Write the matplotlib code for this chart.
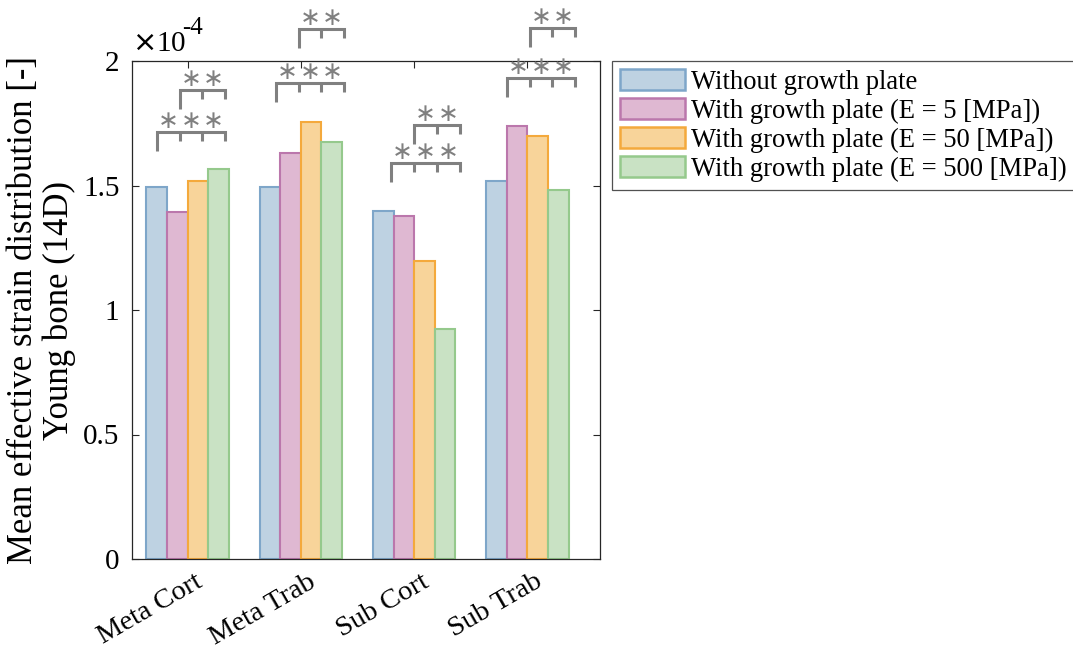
import matplotlib
matplotlib.use("Agg")
import matplotlib.pyplot as plt
from matplotlib.patches import Patch
from matplotlib.transforms import ScaledTranslation
import numpy as np

plt.rcParams["font.family"] = ["Liberation Serif", "DejaVu Serif"]

# Mean effective strain per region (units of 1e-4)
categories = ["Meta Cort", "Meta Trab", "Sub Cort", "Sub Trab"]
series_names = [
    "Without growth plate",
    "With growth plate (E = 5 [MPa])",
    "With growth plate (E = 50 [MPa])",
    "With growth plate (E = 500 [MPa])",
]
without_gp = [1.493, 1.495, 1.398, 1.517]
gp_e5 = [1.394, 1.630, 1.376, 1.740]
gp_e50 = [1.518, 1.754, 1.198, 1.699]
gp_e500 = [1.567, 1.676, 0.925, 1.483]
yticks = [0, 0.5, 1, 1.5, 2]
ytick_labels = ["0", "0.5", "1", "1.5", "2"]

# Significance annotations per region: bracket heights and star counts
lower_bracket_y = [1.714, 1.910, 1.589, 1.930]
upper_bracket_y = [1.882, 2.127, 1.743, 2.131]
lower_stars = [3, 3, 3, 3]
upper_stars = [2, 2, 2, 2]
bracket_shift = [0.03, 0.08, 0.10, 0.12]

face_colors = ["#bed2e2", "#dfb8d2", "#f8d49a", "#c9e2c4"]
edge_colors = ["#7ea6c9", "#bb77ac", "#f4a93c", "#95c98c"]
gray = "#808080"

fig = plt.figure(figsize=(10.73, 6.51), dpi=100)
ax = fig.add_axes([132 / 1073, 1 - 559 / 651, 468 / 1073, 498 / 651])

values = [without_gp, gp_e5, gp_e50, gp_e500]
x = np.arange(1, len(categories) + 1)
width = 0.182
offsets = (np.arange(4) - 1.5) * width
handles = []
for i, vals in enumerate(values):
    ax.bar(x + offsets[i], vals, width, facecolor=face_colors[i],
           edgecolor=edge_colors[i], linewidth=1.5, zorder=2)
    handles.append(Patch(facecolor=face_colors[i], edgecolor=edge_colors[i],
                         linewidth=1.8, label=series_names[i]))

ax.set_xlim(0.51, 4.64)
ax.set_ylim(0, 2)
ax.set_yticks(yticks)
ax.set_yticklabels(ytick_labels, fontsize=21)
ax.set_xticks(x)
ax.set_xticklabels([])
ax.tick_params(axis="both", direction="in", length=5, width=0.8,
               color="#262626", right=True, top=True)
ax.tick_params(axis="y", pad=9)
for s in ax.spines.values():
    s.set_color("#262626")
    s.set_linewidth(0.9)

# Rotated category labels, right end anchored just right of each tick
label_tf = ax.get_xaxis_transform() + ScaledTranslation(
    13 / 100, -21 / 100, fig.dpi_scale_trans)
for xi, name in zip(x, categories):
    ax.text(xi, 0, name, transform=label_tf, fontsize=20.5, rotation=30,
            ha="right", va="center", rotation_mode="anchor")

# Axis exponent label
ax.text(0.0, 1.008, r"$\times$10", transform=ax.transAxes,
        fontsize=21, ha="left", va="bottom")
ax.text(0.107, 1.044, "-4", transform=ax.transAxes,
        fontsize=18, ha="left", va="bottom")

ax.set_ylabel("Mean effective strain distribution [-]\nYoung bone (14D)",
              fontsize=25, linespacing=1.1, labelpad=5)


def bracket(xs, y, nstars):
    leg = 0.075
    tick = 0.035
    ax.plot([xs[0], xs[0], xs[-1], xs[-1]], [y - leg, y, y, y - tick],
            color=gray, lw=2.2, clip_on=False, solid_joinstyle="miter",
            solid_capstyle="butt", zorder=3)
    for xm in xs[1:-1]:
        ax.plot([xm, xm], [y, y - tick], color=gray, lw=2.2, clip_on=False,
                solid_capstyle="butt", zorder=3)
    mids = (np.array(xs[:-1]) + np.array(xs[1:])) / 2
    for xm in mids[-nstars:]:
        ax.text(xm, y + 0.046, "\u2217", color=gray, fontsize=18,
                family="DejaVu Sans", ha="center", va="center", clip_on=False)


for g in range(len(categories)):
    legs = x[g] + offsets * 1.1 + bracket_shift[g]
    bracket(list(legs), lower_bracket_y[g], lower_stars[g])
    bracket(list(legs[1:]), upper_bracket_y[g], upper_stars[g])

leg = fig.legend(handles=handles, loc="upper left",
                 bbox_to_anchor=(612 / 1073, 1 - 61 / 651), fontsize=19.2,
                 frameon=True, fancybox=False, edgecolor="#262626",
                 handlelength=2.45, handleheight=0.85, handletextpad=0.2,
                 borderpad=0.3, labelspacing=0.12, borderaxespad=0)
leg.get_frame().set_linewidth(0.9)

fig.savefig("out.png", dpi=100)
